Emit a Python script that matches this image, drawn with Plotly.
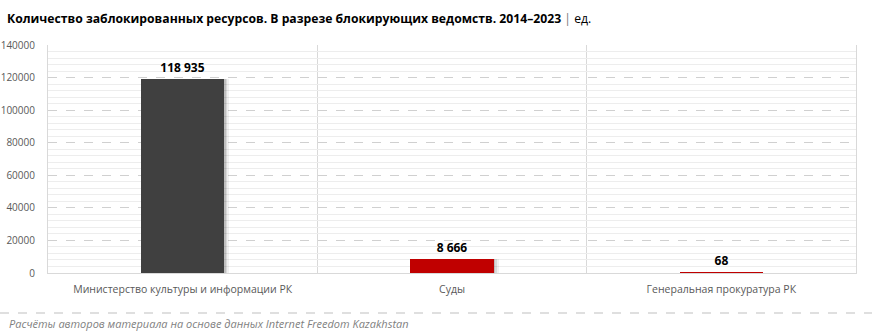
import plotly.graph_objects as go

# Blocked resources by blocking authority, 2014–2023
agencies = [
    "Министерство культуры и информации РК",
    "Суды",
    "Генеральная прокуратура РК",
]
blocked = [118935, 8666, 68]
bar_colors = ["#404040", "#C00000", "#C00000"]

positions = list(range(len(agencies)))
BAR_W = 0.31

fig = go.Figure()

# soft drop shadow to the right of each bar
for dx, alpha in [(0.018, 0.06), (0.011, 0.09), (0.006, 0.12)]:
    fig.add_trace(go.Bar(
        x=[p + dx for p in positions], y=blocked, width=BAR_W,
        marker=dict(color=f"rgba(0,0,0,{alpha})", line=dict(width=0)),
        hoverinfo="skip", showlegend=False,
    ))

fig.add_trace(go.Bar(
    x=positions, y=blocked, width=BAR_W,
    marker=dict(color=bar_colors, line=dict(width=0)),
    text=blocked, texttemplate="<b>%{y:,}</b>", textposition="outside",
    textfont=dict(family="Open Sans, sans-serif", size=12, color="#000000"),
    cliponaxis=False, showlegend=False,
))

fig.update_layout(
    width=872, height=336,
    margin=dict(l=48, r=16, t=45, b=63, autoexpand=False),
    paper_bgcolor="#ffffff", plot_bgcolor="#ffffff",
    barmode="overlay", bargap=0,
    separators=", ",
    font=dict(family="Open Sans, sans-serif", size=11, color="#595959"),
    title=dict(
        text="<b>Количество заблокированных ресурсов. В разрезе блокирующих ведомств. 2014–2023</b>"
             " <span style='color:#777777'>|</span> ед.",
        x=0.008, xanchor="left", y=0.945, yanchor="middle",
        font=dict(family="Open Sans, sans-serif", size=12.2, color="#000000"),
    ),
    xaxis=dict(
        range=[-0.5, len(agencies) - 0.5],
        tickmode="array", tickvals=positions, ticktext=agencies,
        showgrid=False, zeroline=False, automargin=False,
        showline=True, linecolor="#d9d9d9", linewidth=1,
        ticks="", ticklabelstandoff=6,
        tickfont=dict(family="Open Sans, sans-serif", size=10.5, color="#595959"),
        minor=dict(tickmode="linear", tick0=0.5, dtick=1, showgrid=True,
                   gridcolor="#d9d9d9", gridwidth=1, griddash="solid", ticks=""),
    ),
    yaxis=dict(
        range=[0, 140000], dtick=20000, tickformat="d",
        showgrid=True, gridcolor="#d0d0d0", griddash="dash", gridwidth=1,
        zeroline=False, automargin=False,
        showline=True, linecolor="#d9d9d9", linewidth=1, mirror=True,
        ticks="", ticklabelstandoff=10,
        tickfont=dict(family="Open Sans, sans-serif", size=10, color="#595959"),
        minor=dict(dtick=4000, showgrid=True, gridcolor="#ededed", gridwidth=1,
                   griddash="solid", ticks=""),
    ),
)

# footer separator and source note
fig.add_shape(type="line", xref="paper", yref="paper",
              x0=-48 / 808, x1=1 + 16 / 808, y0=-40 / 228, y1=-40 / 228,
              line=dict(color="#bfbfbf", width=1, dash="dash"))
fig.add_annotation(
    text="<i>Расчёты авторов материала на основе данных Internet Freedom Kazakhstan</i>",
    xref="paper", yref="paper", x=-41 / 808, y=-50 / 228,
    xanchor="left", yanchor="middle", showarrow=False,
    font=dict(family="Open Sans, sans-serif", size=11, color="#7f7f7f"),
)

fig.write_html("out.html")
